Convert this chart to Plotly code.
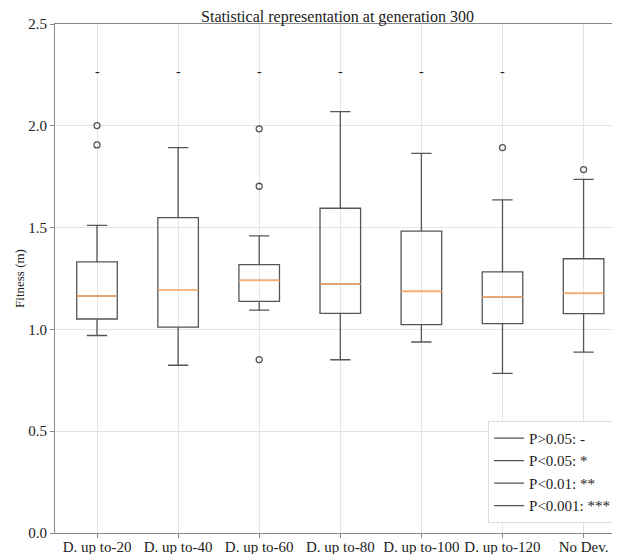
import plotly.graph_objects as go

categories = ["D. up to-20", "D. up to-40", "D. up to-60", "D. up to-80",
              "D. up to-100", "D. up to-120", "No Dev."]
positions = [1, 2, 3, 4, 5, 6, 7]
q1 = [1.051, 1.011, 1.138, 1.079, 1.023, 1.028, 1.077]
median = [1.164, 1.195, 1.241, 1.223, 1.187, 1.159, 1.177]
q3 = [1.332, 1.549, 1.318, 1.595, 1.483, 1.283, 1.347]
lower_whisker = [0.970, 0.824, 1.095, 0.851, 0.938, 0.784, 0.888]
upper_whisker = [1.511, 1.893, 1.459, 2.070, 1.865, 1.636, 1.737]
outliers = [[2.001, 1.906], [], [1.985, 1.703, 0.852], [], [], [1.893], [1.785]]
significance = ["-", "-", "-", "-", "-", "-", ""]
significance_y = 2.268
legend_labels = ["P>0.05: -", "P<0.05: *", "P<0.01: **", "P<0.001: ***"]

FONT = "Liberation Serif"
LINE = "#555555"
MED = "#ffae6e"
TXT = "#222222"

fig = go.Figure()

fig.add_trace(go.Box(
    x=positions, q1=q1, median=median, q3=q3,
    lowerfence=lower_whisker, upperfence=upper_whisker,
    width=0.5, whiskerwidth=0.5, boxpoints=False,
    fillcolor="rgba(0,0,0,0)", line=dict(color=LINE, width=1.3),
    showlegend=False, hoverinfo="skip",
))

# median lines in orange
mx, my = [], []
for p, m in zip(positions, median):
    mx += [p - 0.25, p + 0.25, None]
    my += [m, m, None]
fig.add_trace(go.Scatter(x=mx, y=my, mode="lines",
                         line=dict(color=MED, width=1.6),
                         showlegend=False, hoverinfo="skip"))

# outliers
ox, oy = [], []
for p, vals in zip(positions, outliers):
    for v in vals:
        ox.append(p)
        oy.append(v)
fig.add_trace(go.Scatter(x=ox, y=oy, mode="markers",
                         marker=dict(symbol="circle-open", size=6,
                                     color=LINE, line=dict(width=1.3)),
                         showlegend=False, hoverinfo="skip"))

# legend entries
for i, lab in enumerate(legend_labels):
    fig.add_trace(go.Scatter(x=[None], y=[None], mode="lines", name=lab,
                             legendgroup=str(i),
                             line=dict(color=LINE, width=1.3)))

for p, s in zip(positions, significance):
    if s:
        fig.add_annotation(x=p, y=significance_y, text=s, showarrow=False,
                           xanchor="center", yanchor="middle",
                           font=dict(family=FONT, size=14, color="#222"))

# page body has an 8px offset, so the figure is sized/margined to compensate
fig.update_layout(
    width=612, height=546,
    margin=dict(l=47, r=0, t=16, b=21),
    paper_bgcolor="white", plot_bgcolor="white",
    font=dict(family=FONT, size=15, color=TXT),
    title=dict(text="Statistical representation at generation 300",
               x=0.5, xref="paper", xanchor="center",
               y=1 - 8.5 / 546, yref="container", yanchor="middle",
               font=dict(family=FONT, size=16, color="#222")),
    legend=dict(x=0.993, y=0.02, xanchor="right", yanchor="bottom",
                bgcolor="white", bordercolor="#dddddd", borderwidth=1,
                font=dict(family=FONT, size=15, color="#222"),
                itemwidth=30, tracegroupgap=0),
    showlegend=True,
)

fig.update_xaxes(range=[0.482, 7.449], tickmode="array", tickvals=positions,
                 ticktext=categories, showgrid=True, gridcolor="#e4e4e4",
                 gridwidth=1, showline=True, linecolor="#888888", linewidth=1.2,
                 mirror=True, ticks="outside", ticklen=4, tickcolor="#888888",
                 zeroline=False, automargin=False, ticklabelstandoff=-4,
                 tickfont=dict(family=FONT, size=15, color="#222"))
fig.update_yaxes(range=[0, 2.5], dtick=0.5, tickformat=".1f", showgrid=True,
                 gridcolor="#e4e4e4", gridwidth=1, showline=True,
                 linecolor="#888888", linewidth=1.2, ticks="outside", ticklen=4,
                 tickcolor="#888888", zeroline=False, automargin=False,
                 tickfont=dict(family=FONT, size=15, color="#222"),
                 title=dict(text="Fitness (m)", standoff=0,
                            font=dict(family=FONT, size=13, color="#222")))

fig.write_html("out.html")
